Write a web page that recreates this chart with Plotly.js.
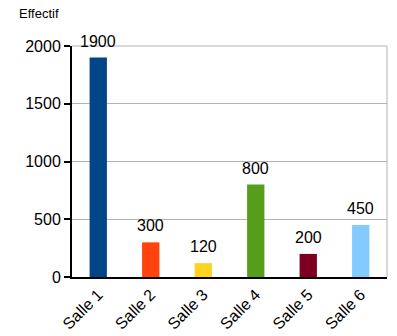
<!DOCTYPE html>
<html><head><meta charset="utf-8">
<script src="https://cdn.plot.ly/plotly-3.0.1.min.js"></script>
<style>html,body{margin:0;padding:0;background:#fff}#c{width:397px;height:336px}</style>
</head><body><div id="c"></div>
<script>
const categories = ["Salle 1","Salle 2","Salle 3","Salle 4","Salle 5","Salle 6"];
const values = [1900, 300, 120, 800, 200, 450];
const colors = ["#004586","#ff420e","#ffd320","#579d1c","#7e0021","#83caff"];
const yTicks = [0, 500, 1000, 1500, 2000];

const font = "Liberation Sans, Arial, sans-serif";
const labelAnns = categories.map((c, i) => ({
  x: c, y: values[i], xref: "x", yref: "y", text: String(values[i]),
  showarrow: false, yanchor: "bottom", xanchor: "center", yshift: 6,
  font: {family: font, size: 16, color: "#000"}
}));
Plotly.newPlot("c", [{
  type: "bar", x: categories, y: values,
  marker: {color: colors},
  width: 0.33, hoverinfo: "none"
}], {
  width: 397, height: 336,
  margin: {l: 72, r: 10, t: 46, b: 59},
  paper_bgcolor: "#fff", plot_bgcolor: "#fff",
  showlegend: false,
  font: {family: font, size: 16, color: "#000"},
  xaxis: {tickangle: -45, showline: true, linecolor: "#000", linewidth: 2,
          ticks: "", mirror: false, tickfont: {size: 16}, showgrid: false,
          zeroline: false},
  yaxis: {range: [0, 2000], tickvals: yTicks, showline: true, linecolor: "#000",
          linewidth: 2, ticks: "outside", ticklen: 6, tickwidth: 2, tickcolor: "#000",
          gridcolor: "#b3b3b3", gridwidth: 1, zeroline: false, fixedrange: true},
  shapes: [
    {type: "line", xref: "paper", yref: "paper", x0: 0, x1: 1, y0: 1, y1: 1, line: {color: "#b3b3b3", width: 1}},
    {type: "line", xref: "paper", yref: "paper", x0: 1, x1: 1, y0: 0, y1: 1, line: {color: "#b3b3b3", width: 1}}
  ],
  annotations: labelAnns.concat([{text: "Effectif", xref: "paper", yref: "paper", x: -0.175, y: 1.14,
    xanchor: "left", yanchor: "middle", showarrow: false, font: {size: 13, family: font}}])
}, {staticPlot: true});
</script></body></html>
